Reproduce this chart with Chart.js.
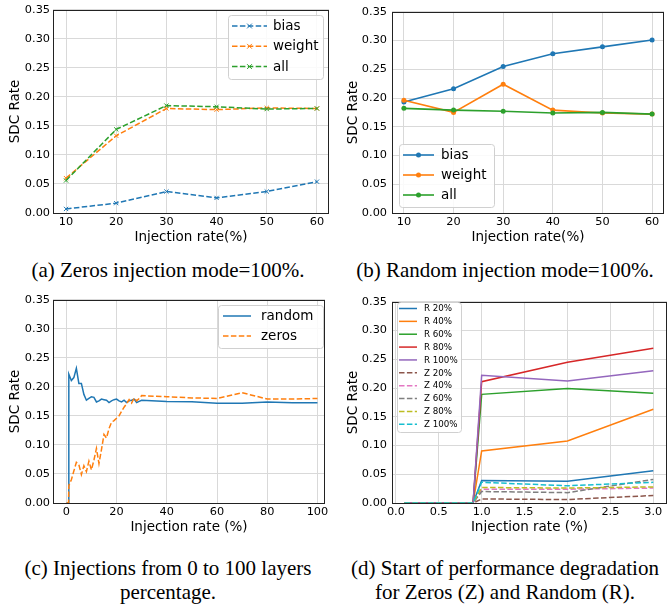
<!DOCTYPE html>
<html>
<head>
<meta charset="utf-8">
<script src="https://cdn.jsdelivr.net/npm/chart.js@4.4.1/dist/chart.umd.min.js"></script>
<style>
    body { margin: 0; background: #fff; width: 668px; height: 606px; position: relative; overflow: hidden; }
    .panel { position: absolute; width: 334px; height: 250px; }
    .cap { position: absolute; width: 334px; font-family: "Liberation Serif", "Times New Roman", serif;
           font-size: 21px; line-height: 24px; text-align: center; white-space: nowrap; color: #000; }
</style>
</head>
<body>
<div class="panel" style="left:0;top:0"><canvas id="chartA"></canvas></div>
<div class="panel" style="left:334px;top:0"><canvas id="chartB"></canvas></div>
<div class="panel" style="left:0;top:290px"><canvas id="chartC"></canvas></div>
<div class="panel" style="left:334px;top:290px"><canvas id="chartD"></canvas></div>

<div class="cap" style="left:1px;top:258px">(a) Zeros injection mode=100%.</div>
<div class="cap" style="left:338px;top:258px">(b) Random injection mode=100%.</div>
<div class="cap" style="left:1px;top:556px">(c) Injections from 0 to 100 layers<br>percentage.</div>
<div class="cap" style="left:338px;top:556px">(d) Start of performance degradation<br>for Zeros (Z) and Random (R).</div>

<script>
// ================= DATA =================
const ratesAB = [10, 20, 30, 40, 50, 60];

// (a) zeros injection mode
const zerosBias   = [0.007, 0.017, 0.037, 0.026, 0.037, 0.054];
const zerosWeight = [0.060, 0.133, 0.180, 0.178, 0.181, 0.180];
const zerosAll    = [0.056, 0.144, 0.185, 0.183, 0.179, 0.180];

// (b) random injection mode
const randomBias   = [0.193, 0.216, 0.255, 0.277, 0.289, 0.301];
const randomWeight = [0.196, 0.175, 0.224, 0.179, 0.174, 0.172];
const randomAll    = [0.182, 0.179, 0.177, 0.174, 0.175, 0.172];

// (c) 0..100 layers percentage
const ratesC = [0.1, 0.5, 0.9, 1, 2, 3, 4, 5, 6, 7, 8, 9, 10, 11, 12, 13, 14, 15, 16, 17, 18, 19, 20,
                21, 22, 23, 24, 25, 26, 27, 28, 29, 30, 40, 50, 60, 70, 80, 90, 100];
const sweepRandom = [0, 0, 0, 0.222, 0.211, 0.216, 0.232, 0.206, 0.206, 0.187, 0.177, 0.180, 0.183,
                     0.182, 0.174, 0.176, 0.179, 0.178, 0.177, 0.173, 0.176, 0.178, 0.179,
                     0.176, 0.174, 0.177, 0.173, 0.176, 0.177, 0.179, 0.173, 0.175, 0.177,
                     0.175, 0.1745, 0.172, 0.172, 0.174, 0.1725, 0.1725];
const sweepZeros  = [0, 0, 0, 0.030, 0.040, 0.055, 0.070, 0.066, 0.049, 0.064, 0.054, 0.072, 0.057,
                     0.074, 0.094, 0.068, 0.092, 0.118, 0.112, 0.128, 0.139, 0.142, 0.146,
                     0.150, 0.158, 0.165, 0.171, 0.178, 0.172, 0.181, 0.176, 0.180, 0.185,
                     0.183, 0.181, 0.180, 0.190, 0.179, 0.179, 0.180];

// (d) start of degradation
const ratesD = [0.1, 0.2, 0.3, 0.4, 0.5, 0.6, 0.7, 0.8, 0.9, 1, 2, 3];
const rand20  = [0, 0, 0, 0, 0, 0, 0, 0, 0, 0.039, 0.038, 0.056];
const rand40  = [0, 0, 0, 0, 0, 0, 0, 0, 0, 0.0905, 0.108, 0.163];
const rand60  = [0, 0, 0, 0, 0, 0, 0, 0, 0, 0.189, 0.199, 0.191];
const rand80  = [0, 0, 0, 0, 0, 0, 0, 0, 0, 0.211, 0.245, 0.269];
const rand100 = [0, 0, 0, 0, 0, 0, 0, 0, 0, 0.222, 0.212, 0.230];
const zero20  = [0, 0, 0, 0, 0, 0, 0, 0, 0, 0.007, 0.006, 0.013];
const zero40  = [0, 0, 0, 0, 0, 0, 0, 0, 0, 0.024, 0.024, 0.026];
const zero60  = [0, 0, 0, 0, 0, 0, 0, 0, 0, 0.020, 0.018, 0.041];
const zero80  = [0, 0, 0, 0, 0, 0, 0, 0, 0, 0.027, 0.026, 0.028];
const zero100 = [0, 0, 0, 0, 0, 0, 0, 0, 0, 0.036, 0.030, 0.036];

// tick labels
const ticksAB = [10, 20, 30, 40, 50, 60];
const ticksC  = [0, 20, 40, 60, 80, 100];
const ticksD  = [0, 0.5, 1, 1.5, 2, 2.5, 3];
const ticksY  = [0, 0.05, 0.10, 0.15, 0.20, 0.25, 0.30, 0.35];

// ================= STYLE =================
const C = {
    blue: "#1f77b4", orange: "#ff7f0e", green: "#2ca02c", red: "#d62728", purple: "#9467bd",
    brown: "#8c564b", pink: "#e377c2", gray: "#7f7f7f", olive: "#bcbd22", cyan: "#17becf"
};
const DASH = [5.5, 2.4];

Chart.defaults.font.family = "'DejaVu Sans', sans-serif";
Chart.defaults.color = "#000";

function points(xs, ys) {
    return xs.map((x, i) => ({ x, y: ys[i] }));
}

// ================= PLUGINS =================
// box around the plot like matplotlib spines
const frame = {
    id: "frame",
    afterDatasetsDraw(chart) {
        const { ctx, chartArea: a } = chart;
        ctx.save();
        ctx.strokeStyle = "#222";
        ctx.lineWidth = 1;
        ctx.strokeRect(Math.round(a.left) + 0.5, Math.round(a.top) + 0.5,
            Math.round(a.right - a.left) - 1, Math.round(a.bottom - a.top));
        ctx.restore();
    }
};

// legend drawn inside the axes
const boxLegend = {
    id: "boxLegend",
    afterDraw(chart, args, o) {
        const ctx = chart.ctx;
        ctx.save();
        ctx.beginPath();
        ctx.roundRect(o.x + 0.5, o.y + 0.5, o.w, o.h, 3);
        ctx.fillStyle = "rgba(255,255,255,0.85)";
        ctx.fill();
        ctx.strokeStyle = "#d0d0d0";
        ctx.lineWidth = 1;
        ctx.stroke();

        ctx.font = o.size + "px 'DejaVu Sans'";
        ctx.textBaseline = "middle";
        chart.data.datasets.forEach((ds, i) => {
            const y = o.y + o.first + i * o.row;
            const x0 = o.x + o.sx, x1 = x0 + o.len;
            ctx.strokeStyle = ds.borderColor;
            ctx.lineWidth = o.lw || ds.borderWidth;
            ctx.setLineDash(ds.borderDash || []);
            ctx.beginPath();
            ctx.moveTo(x0, y);
            ctx.lineTo(x1, y);
            ctx.stroke();
            ctx.setLineDash([]);
            const mx = (x0 + x1) / 2;
            if (ds.pointRadius > 0 && ds.pointStyle === "crossRot") {
                const r = ds.pointRadius * 0.8;
                ctx.lineWidth = 1;
                ctx.beginPath();
                ctx.moveTo(mx - r, y - r); ctx.lineTo(mx + r, y + r);
                ctx.moveTo(mx - r, y + r); ctx.lineTo(mx + r, y - r);
                ctx.stroke();
            } else if (ds.pointRadius > 0) {
                ctx.fillStyle = ds.borderColor;
                ctx.beginPath();
                ctx.arc(mx, y, ds.pointRadius, 0, Math.PI * 2);
                ctx.fill();
            }
            ctx.fillStyle = "#000";
            ctx.fillText(ds.label, o.x + o.tx, y + 0.5);
        });
        ctx.restore();
    }
};

// ================= OPTIONS =================
function makeOptions(cfg) {
    return {
        responsive: true,
        maintainAspectRatio: false,
        animation: false,
        layout: { padding: { top: cfg.top, right: cfg.right, left: 0, bottom: 0 } },
        plugins: {
            legend: { display: false },
            tooltip: { enabled: false },
            boxLegend: cfg.legend
        },
        scales: {
            x: {
                type: "linear",
                min: cfg.xMin,
                max: cfg.xMax,
                afterBuildTicks: s => { s.ticks = cfg.xTicks.map(v => ({ value: v })); },
                afterFit: s => { s.height = 37; },
                border: { display: false },
                grid: { color: "#d9d9d9", lineWidth: 1, drawTicks: false },
                ticks: { padding: 2, font: { size: 11.3 }, maxRotation: 0, callback: cfg.xFmt },
                title: {
                    display: true, text: cfg.xTitle,
                    font: { size: 13.5, lineHeight: 1.2 }, padding: { top: 0, bottom: 4 }
                }
            },
            y: {
                min: 0,
                max: 0.35,
                afterBuildTicks: s => { s.ticks = ticksY.map(v => ({ value: v })); },
                afterFit: s => { s.width = cfg.left; },
                border: { display: false },
                grid: { color: "#d9d9d9", lineWidth: 1, drawTicks: false },
                ticks: { padding: cfg.yPad, font: { size: 11.3 }, callback: v => v.toFixed(2) },
                title: {
                    display: true, text: "SDC Rate",
                    font: { size: 13.5, lineHeight: 1.2 }, padding: { top: cfg.yTitlePad, bottom: 0 }
                }
            }
        }
    };
}

function dashedX(label, ys, color, order) {
    return {
        label, data: points(ratesAB, ys), borderColor: color, backgroundColor: color,
        borderWidth: 1.5, borderDash: DASH, pointStyle: "crossRot", pointRadius: 3,
        pointBorderWidth: 1, pointBorderColor: color, tension: 0, order
    };
}

function solidDot(label, ys, color, order) {
    return {
        label, data: points(ratesAB, ys), borderColor: color, backgroundColor: color,
        borderWidth: 1.6, pointStyle: "circle", pointRadius: 2.5, pointBorderWidth: 0,
        pointBackgroundColor: color, tension: 0, order
    };
}

function plain(label, xs, ys, color, dashed, order) {
    return {
        label, data: points(xs, ys), borderColor: color, backgroundColor: color,
        borderWidth: 1.5, borderDash: dashed ? DASH : [], pointRadius: 0, tension: 0, order
    };
}

const intFmt = v => String(v);

// ================= CHARTS =================
new Chart(document.getElementById("chartA"), {
    type: "line",
    data: {
        datasets: [
            dashedX("bias", zerosBias, C.blue, 3),
            dashedX("weight", zerosWeight, C.orange, 2),
            dashedX("all", zerosAll, C.green, 1)
        ]
    },
    options: makeOptions({
        top: 8, right: 4, left: 53, yPad: 3, yTitlePad: 7,
        xMin: 7.4, xMax: 62.4, xTicks: ticksAB, xFmt: intFmt, xTitle: "Injection rate(%)",
        legend: { x: 228, y: 15, w: 95, h: 64, first: 11, row: 20.3, sx: 4, len: 35, tx: 45, size: 13.5 }
    }),
    plugins: [frame, boxLegend]
});

new Chart(document.getElementById("chartB"), {
    type: "line",
    data: {
        datasets: [
            solidDot("bias", randomBias, C.blue, 3),
            solidDot("weight", randomWeight, C.orange, 2),
            solidDot("all", randomAll, C.green, 1)
        ]
    },
    options: makeOptions({
        top: 8, right: 1, left: 58, yPad: 5, yTitlePad: 11,
        xMin: 7.6, xMax: 62.4, xTicks: ticksAB, xFmt: intFmt, xTitle: "Injection rate(%)",
        legend: { x: 65, y: 144, w: 95, h: 63, first: 11, row: 20, sx: 4, len: 31, tx: 42, size: 13.5 }
    }),
    plugins: [frame, boxLegend]
});

new Chart(document.getElementById("chartC"), {
    type: "line",
    data: {
        datasets: [
            plain("random", ratesC, sweepRandom, C.blue, false, 2),
            plain("zeros", ratesC, sweepZeros, C.orange, true, 1)
        ]
    },
    options: makeOptions({
        top: 7, right: 9, left: 53, yPad: 3, yTitlePad: 7,
        xMin: -5.3, xMax: 103, xTicks: ticksC, xFmt: intFmt, xTitle: "Injection rate (%)",
        legend: { x: 218, y: 15, w: 105, h: 43, first: 11, row: 20, sx: 5, len: 28, tx: 43, size: 13.5 }
    }),
    plugins: [frame, boxLegend]
});

new Chart(document.getElementById("chartD"), {
    type: "line",
    data: {
        datasets: [
            plain("R 20%", ratesD, rand20, C.blue, false, 10),
            plain("R 40%", ratesD, rand40, C.orange, false, 9),
            plain("R 60%", ratesD, rand60, C.green, false, 8),
            plain("R 80%", ratesD, rand80, C.red, false, 7),
            plain("R 100%", ratesD, rand100, C.purple, false, 6),
            plain("Z 20%", ratesD, zero20, C.brown, true, 5),
            plain("Z 40%", ratesD, zero40, C.pink, true, 4),
            plain("Z 60%", ratesD, zero60, C.gray, true, 3),
            plain("Z 80%", ratesD, zero80, C.olive, true, 2),
            plain("Z 100%", ratesD, zero100, C.cyan, true, 1)
        ]
    },
    options: makeOptions({
        top: 7, right: 1, left: 58, yPad: 5, yTitlePad: 11,
        xMin: -0.045, xMax: 3.16, xTicks: ticksD, xFmt: v => v.toFixed(1), xTitle: "Injection rate (%)",
        legend: { x: 63, y: 12, w: 64, h: 130, first: 6.5, row: 12.86, sx: 2, len: 18, tx: 27, size: 8.7, lw: 1.5 }
    }),
    plugins: [frame, boxLegend]
});
</script>
</body>
</html>
